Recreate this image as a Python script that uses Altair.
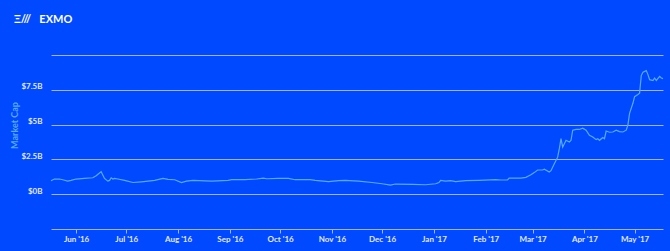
import altair as alt
import pandas as pd

dates = ["2016-05-17","2016-05-19","2016-05-22","2016-05-24","2016-05-27","2016-05-29","2016-06-01","2016-06-06","2016-06-11","2016-06-13",
         "2016-06-15","2016-06-16","2016-06-18","2016-06-20","2016-06-21","2016-06-22","2016-06-23","2016-06-24","2016-06-26","2016-06-30",
         "2016-07-05","2016-07-10","2016-07-14","2016-07-18","2016-07-23","2016-07-26","2016-07-30","2016-08-03","2016-08-06","2016-08-10",
         "2016-08-21","2016-08-31","2016-09-02","2016-09-10","2016-09-17","2016-09-21","2016-09-23","2016-09-30","2016-10-06","2016-10-10",
         "2016-10-19","2016-10-22","2016-10-30","2016-11-05","2016-11-09","2016-11-17","2016-11-25","2016-12-01","2016-12-06","2016-12-09",
         "2016-12-19","2016-12-27","2017-01-02","2017-01-04","2017-01-05","2017-01-08","2017-01-11","2017-01-14","2017-01-20","2017-01-28",
         "2017-02-07","2017-02-10","2017-02-14","2017-02-15","2017-02-22","2017-02-25","2017-02-28","2017-03-02","2017-03-04","2017-03-07",
         "2017-03-08","2017-03-11","2017-03-12","2017-03-14","2017-03-16","2017-03-17","2017-03-18","2017-03-19","2017-03-21","2017-03-23",
         "2017-03-24","2017-03-25","2017-03-27","2017-03-29","2017-03-31","2017-04-02","2017-04-04","2017-04-06","2017-04-08","2017-04-09",
         "2017-04-10","2017-04-12","2017-04-13","2017-04-14","2017-04-16","2017-04-18","2017-04-20","2017-04-22","2017-04-24","2017-04-26",
         "2017-04-27","2017-04-28","2017-04-30","2017-05-01","2017-05-03","2017-05-04","2017-05-05","2017-05-06","2017-05-08","2017-05-09",
         "2017-05-10","2017-05-12","2017-05-13","2017-05-14","2017-05-16","2017-05-17","2017-05-18"]

market_cap_billions = [0.97,1.09,1.09,1.04,0.94,0.99,1.09,1.13,1.18,1.33,
                       1.52,1.62,1.13,0.94,0.99,1.18,1.09,1.13,1.09,0.99,
                       0.84,0.89,0.94,0.99,1.13,1.06,1.04,0.84,0.94,0.99,
                       0.94,0.99,1.04,1.04,1.09,1.16,1.11,1.13,1.13,1.04,
                       1.04,0.99,0.91,0.97,0.99,0.94,0.84,0.75,0.65,0.73,
                       0.70,0.68,0.75,0.84,0.99,0.94,0.97,0.91,0.97,0.99,
                       1.04,1.02,1.02,1.16,1.16,1.21,1.40,1.55,1.74,1.74,
                       1.79,1.60,1.69,2.18,2.66,3.27,3.99,3.38,3.87,3.75,
                       3.87,4.60,4.65,4.65,4.74,4.60,4.23,4.11,3.92,3.99,
                       3.87,4.07,3.99,4.54,4.45,4.47,4.60,4.50,4.47,4.60,
                       4.96,5.81,6.53,7.01,7.16,7.26,8.52,8.76,8.88,8.59,
                       8.23,8.17,8.35,8.17,8.47,8.35,8.30]

y_ticks = [0, 2.5, 5, 7.5, 10]

df = pd.DataFrame({"date": dates, "cap": market_cap_billions})

BG = "#0049ff"
GRID = "#a6b3ff"
LINE = "#58aaff"
LABEL = "#e2e8ff"
FONT = "Lato"

chart = alt.Chart(df).mark_line(color=LINE, strokeWidth=1.2, interpolate="linear").encode(
    x=alt.X("date:T",
            scale=alt.Scale(type="utc", nice=False, padding=0),
            axis=alt.Axis(title=None, format="%b '%y",
                          tickCount={"interval": "month", "step": 1},
                          grid=False, domain=True, domainColor=GRID, domainWidth=1,
                          ticks=True, tickColor=GRID, tickSize=4, tickWidth=1,
                          labelColor=LABEL, labelFont=FONT, labelFontSize=8,
                          labelFontWeight="bold", labelPadding=2, labelFlush=False)),
    y=alt.Y("cap:Q",
            scale=alt.Scale(domain=[-2.5, 10], nice=False, zero=False),
            axis=alt.Axis(title="Market Cap", values=y_ticks,
                          labelExpr="datum.value == 10 ? '' : '$' + datum.value + 'B'",
                          grid=True, gridColor=GRID, gridWidth=1,
                          domain=False, ticks=False,
                          labelColor=LABEL, labelFont=FONT, labelFontSize=8,
                          labelFontWeight="bold", labelPadding=9, labelOffset=-3,
                          titleColor=LINE, titleFont=FONT, titleFontSize=9,
                          titleFontWeight="bold", titleAngle=270,
                          titleAlign="center", titleBaseline="middle",
                          titleX=-37, titleY=70)),
).properties(
    width=612,
    height=174,
    title=alt.TitleParams(text="Ξ///\u2003EXMO", anchor="start", frame="group",
                          color="#ffffff", font=FONT, fontSize=11,
                          fontWeight="bold", dx=-37, offset=30),
    background=BG,
    padding={"left": 51, "top": 55, "right": 7, "bottom": 22},
    autosize=alt.AutoSizeParams(type="none"),
).configure_view(stroke=None)

chart.save("out.html", embed_options={"renderer": "svg", "actions": False})
